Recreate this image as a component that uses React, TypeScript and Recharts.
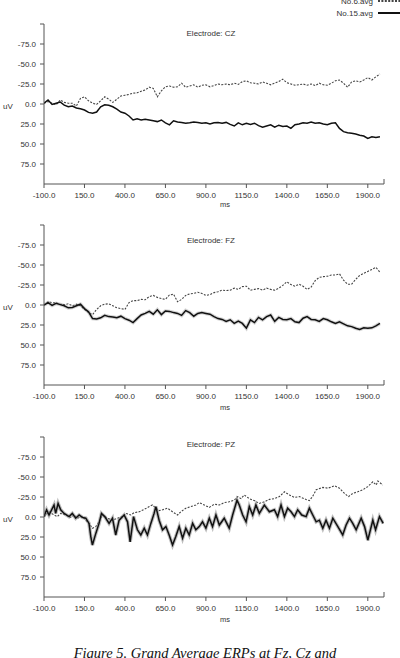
import React from 'react';
import { LineChart, Line, XAxis, YAxis } from 'recharts';

// sample times (ms) shared by the CZ and FZ traces
const gridMs = Array.from({ length: 84 }, (_, i) => -100 + 25 * i);

const czNo6 = [
  -1, -3, -1, 1, -5, -2, -1, -1, 2.5, -7, -9, -4, -1, 0.5, -4, -9, -6, -2, -6, -10,
  -11, -12, -13.5, -14, -16, -17.5, -21, -19.5, -9, -16.5, -21.5, -22.5, -21, -21.5, -26, -21, -22.5, -24, -21, -23.5,
  -24, -21.5, -23, -25, -24, -25, -24, -26, -24.5, -28, -29, -26.5, -26, -25, -27.5, -26, -24, -26, -28, -31,
  -26.5, -25, -23.5, -24, -25, -23.5, -25, -23, -26, -24, -23.5, -26, -29, -30, -26, -21, -27.5, -29, -27.5, -30,
  -33, -30, -34, -37.5,
];
const czNo15 = [
  -1, -5, 0.5, -1, -2.5, 1.5, 3.5, 2.5, 5, 6, 7.5, 10.5, 11.5, 10, 3.5, 1, 1.5, 3.5, 6.5, 10,
  11.5, 15, 20, 18.5, 20, 19, 20, 21, 22, 20, 23.5, 26, 21, 22.5, 23, 24, 23.5, 22.5, 23, 24,
  23.5, 25, 23.5, 23, 24, 23, 25.5, 27.5, 23.5, 26, 24, 25.5, 24, 27, 29, 27.5, 26, 29, 26.5, 28,
  27.5, 30.5, 26, 25, 23.5, 24, 22.5, 24, 23.5, 25, 26, 24, 23.5, 30.5, 34.5, 36, 36.5, 37.5, 39, 40,
  43, 41, 42, 41,
];

const fzNo6 = [
  0, -4, -3, -2.5, -1, -0.5, -1.5, 1, -1, 1, 5.5, 9.5, 12, 5.5, 1, -1, -1.5, 1, 3.5, 4.5,
  5.5, -3, -5.5, -5.5, -7, -6.5, -10.5, -12, -9.5, -8, -7, -12.5, -13.5, -4, -7, -12, -14, -14.5, -16, -14.5,
  -12, -13, -15.5, -16.5, -18.5, -18, -18.5, -21, -19.5, -23, -23.5, -18.5, -19.5, -20.5, -18.5, -21, -19.5, -18.5, -21, -24.5,
  -29, -25.5, -23.5, -26, -23.5, -19.5, -22.5, -30.5, -34.5, -35.5, -36, -37.5, -37.5, -39, -31, -26, -26, -32, -37, -39.5,
  -42, -44.5, -47, -41,
];
const fzNo15 = [
  0, -3, 0.5, -2, -0.5, 1, 3.5, 3, 1, -1, 4.5, 8.5, 17, 17.5, 16, 13, 14.5, 15, 16, 14,
  17, 19, 22, 17, 12.5, 10.5, 8, 11.5, 6, 12, 7.5, 8, 9.5, 10.5, 13, 7, 9.5, 14, 10.5, 9.5,
  10.5, 11.5, 14.5, 17, 18, 20.5, 18.5, 23, 20, 23, 29, 18.5, 22, 15.5, 18.5, 14.5, 12.5, 20.5, 15.5, 18,
  18.5, 17, 21, 22, 16.5, 14.5, 18, 18.5, 20.5, 17, 18.5, 21, 23, 21, 23.5, 26, 27, 29, 30.5, 28.5,
  29, 28.5, 26, 23,
];

// PZ is sampled at its own turning points
const pzNo6Ms = [
  -100, -69, -38, -18, 3, 34, 65, 86, 106, 137, 158, 178, 199, 220, 240, 261, 292, 323, 354, 385,
  405, 436, 457, 488, 519, 550, 570, 591, 611, 632, 663, 694, 725, 745, 776, 807, 838, 859, 890, 921,
  952, 983, 1013, 1044, 1075, 1096, 1117, 1137, 1168, 1199, 1230, 1261, 1292, 1323, 1354, 1385, 1416, 1447, 1477, 1519,
  1539, 1560, 1581, 1622, 1653, 1694, 1725, 1756, 1781, 1807, 1838, 1869, 1900, 1931, 1952, 1962, 1993,
];
const pzNo6 = [
  -0.5, -6.5, -2.5, -0.5, -4.5, -2.5, 0.5, -2.5, 1.5, -0.5, 4, 8, 14, 12, 6, -2.5, 1.5, 4, 1.5, -0.5,
  -4.5, -2.5, -5.5, -6.5, -9.5, -13, -15, -11, -8, -9, -11, -6.5, -2.5, -6.5, -11, -13, -15, -18, -15, -12,
  -16, -15, -18, -19, -21, -25.5, -23, -27.5, -23, -20.5, -17, -19, -22, -23, -25.5, -31.5, -27.5, -24.5, -25.5, -22,
  -20.5, -26, -34, -37, -36, -39, -36, -29.5, -25.5, -29.5, -31.5, -34, -38, -44, -40, -45, -40,
];
const pzNo15Ms = [
  -100, -84, -69, -38, -28, -13, 3, 24, 55, 75, 96, 117, 137, 158, 178, 189, 199, 220, 240, 255,
  275, 302, 323, 343, 364, 395, 416, 432, 453, 477, 498, 519, 539, 560, 580, 591, 611, 632, 653, 673,
  694, 714, 735, 756, 776, 797, 818, 838, 859, 879, 900, 921, 941, 962, 983, 1013, 1044, 1065, 1092, 1106,
  1127, 1148, 1168, 1189, 1209, 1230, 1261, 1292, 1323, 1343, 1364, 1385, 1405, 1426, 1447, 1467, 1492, 1519, 1539, 1560,
  1581, 1601, 1622, 1642, 1663, 1684, 1715, 1745, 1766, 1787, 1807, 1828, 1859, 1880, 1900, 1931, 1948, 1972, 1995,
];
const pzNo15 = [
  -0.5, -9, -2.5, -15, -4.5, -17, -9, -4.5, -0.5, -4.5, 1.5, -2.5, 0.5, 1.5, 8, 24.5, 35, 20.5, 8, -4.5,
  -0.5, 8, 1.5, 22.5, 4, -2.5, 6, 31, -0.5, 16, 22.5, 14, 22.5, 8, -4.5, -13, 4, 16, 12, 22.5,
  35, 24.5, 12, 26.5, 14, 22.5, 8, 16, 12, 6, 14, 1.5, 12, -2.5, 10, 1.5, 14, -2.5, -21, -15,
  -2.5, 6, -13, -2.5, -15, -4.5, -15, -6.5, -9, -0.5, -15, -0.5, -11, -6.5, -0.5, -9, -2.5, -0.5, -11, -2.5,
  6, 4, 14, 4, 14, 1.5, 12, 22.5, 10, 1.5, 8, 16, 1.5, 12, 29, 4, 16, -0.5, 8,
];

const xTicks = [-100, 150, 400, 650, 900, 1150, 1400, 1650, 1900, 2000];
const yTicks = [-100, -75, -50, -25, 0, 25, 50, 75];

const AXIS = '#555';
const TEXT = '#333';
const FONT = '"Liberation Sans", Arial, sans-serif';

const toPoints = (ms: number[], uv: number[]) => uv.map((v, i) => ({ t: ms[i], v }));

const panels = [
  { name: 'CZ', top: 24, titleY: 36, msY: 207, no6: toPoints(gridMs, czNo6), no15: toPoints(gridMs, czNo15), halo: 0 },
  { name: 'FZ', top: 225, titleY: 243, msY: 410, no6: toPoints(gridMs, fzNo6), no15: toPoints(gridMs, fzNo15), halo: 0.35 },
  { name: 'PZ', top: 437, titleY: 447, msY: 622, no6: toPoints(pzNo6Ms, pzNo6), no15: toPoints(pzNo15Ms, pzNo15), halo: 0.55 },
];

const XTick = ({ x, y, payload }: any) => {
  const v = payload.value;
  if (v === 2000) return <line x1={x} y1={y} x2={x} y2={y - 5} stroke={AXIS} />;
  return (
    <g>
      <line x1={x} y1={y} x2={x} y2={y + 4} stroke={AXIS} />
      <text x={x} y={y + 13.5} textAnchor="middle" fontSize={8} fontFamily={FONT} fill={TEXT}>
        {v.toFixed(1)}
      </text>
    </g>
  );
};

const YTick = ({ x, y, payload }: any) => {
  const v = payload.value;
  return (
    <g>
      <line x1={x - 4} y1={y} x2={x} y2={y} stroke={AXIS} />
      {v !== -100 && (
        <text x={x - 8} y={y + 3} textAnchor="end" fontSize={8} fontFamily={FONT} fill={TEXT}>
          {v.toFixed(1)}
        </text>
      )}
    </g>
  );
};

const Panel = ({ p }: { p: (typeof panels)[number] }) => (
  <div style={{ position: 'absolute', left: 0, top: p.top - 10 }}>
    <LineChart width={400} height={200} margin={{ top: 10, right: 16, bottom: 10, left: 4 }}>
      <XAxis
        type="number"
        dataKey="t"
        domain={[-100, 2000]}
        ticks={xTicks}
        interval={0}
        allowDataOverflow
        height={20}
        tickSize={0}
        tickMargin={0}
        tickLine={false}
        axisLine={{ stroke: AXIS }}
        tick={XTick}
      />
      <YAxis
        type="number"
        dataKey="v"
        domain={[-100, 100]}
        ticks={yTicks}
        interval={0}
        reversed
        allowDataOverflow
        width={40}
        tickSize={0}
        tickMargin={0}
        tickLine={false}
        axisLine={{ stroke: AXIS }}
        tick={YTick}
      />
      <Line data={p.no6} dataKey="v" type="linear" stroke="#444" strokeWidth={1.1}
        strokeDasharray="2 1.4" dot={false} activeDot={false} isAnimationActive={false} />
      {p.halo > 0 && (
        <Line data={p.no15} dataKey="v" type="linear" stroke="#888" strokeWidth={3.6}
          strokeOpacity={p.halo} dot={false} activeDot={false} isAnimationActive={false} />
      )}
      <Line data={p.no15} dataKey="v" type="linear" stroke="#111" strokeWidth={1.5}
        dot={false} activeDot={false} isAnimationActive={false} />
    </LineChart>
  </div>
);

export default function App() {
  return (
    <div style={{ position: 'absolute', left: 0, top: 0, width: 400, height: 658, background: '#fff', overflow: 'hidden' }}>
      {panels.map((p) => (
        <Panel key={p.name} p={p} />
      ))}
      <svg width={400} height={658} style={{ position: 'absolute', left: 0, top: 0, pointerEvents: 'none' }}>
        <g fontFamily={FONT} fill={TEXT} fontSize={8}>
          <text x={373} y={4} textAnchor="end">No.6.avg</text>
          <text x={373} y={16} textAnchor="end">No.15.avg</text>
        </g>
        <line x1={378} y1={1} x2={400} y2={1} stroke="#444" strokeWidth={2} strokeDasharray="2 1.4" />
        <line x1={378} y1={13} x2={400} y2={13} stroke="#111" strokeWidth={2} />
        {panels.map((p) => (
          <g key={p.name} fontFamily={FONT} fill={TEXT} fontSize={8}>
            <text x={211} y={p.titleY} textAnchor="middle">Electrode: {p.name}</text>
            <text x={3} y={p.top + 85}>uV</text>
            <text x={225} y={p.msY} textAnchor="middle" fontSize={7.5}>ms</text>
          </g>
        ))}
        <text x={205} y={658} textAnchor="middle" fontFamily='"Liberation Serif", "Times New Roman", serif'
          fontStyle="italic" fontSize={14.5} fill="#111">
          Figure 5. Grand Average ERPs at Fz, Cz and
        </text>
      </svg>
    </div>
  );
}
